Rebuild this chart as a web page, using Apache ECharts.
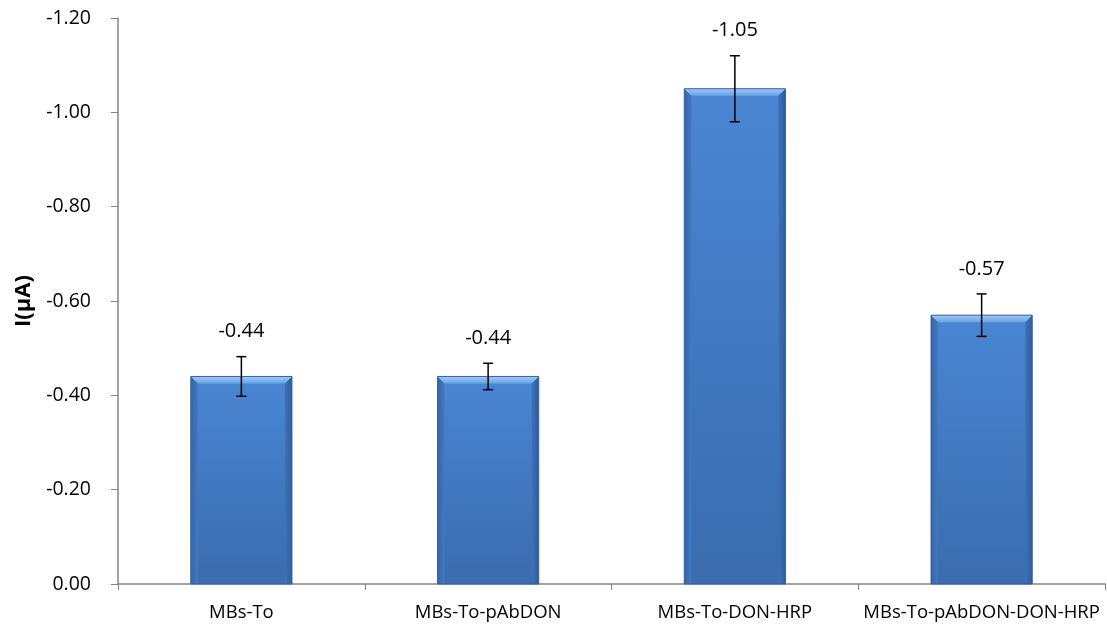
<!DOCTYPE html>
<html>
<head>
<meta charset="utf-8">
<script src="https://cdn.jsdelivr.net/npm/echarts@6/dist/echarts.min.js"></script>
<style>html,body{margin:0;padding:0;background:#fff}#c{width:1107px;height:624px}</style>
</head>
<body>
<div id="c"></div>
<script>
const categories = ['MBs-To', 'MBs-To-pAbDON', 'MBs-To-DON-HRP', 'MBs-To-pAbDON-DON-HRP'];
const values = [-0.44, -0.44, -1.05, -0.57];
const errors = [0.042, 0.028, 0.07, 0.045];
const yMin = -1.2, yMax = 0, yStep = 0.2;
const yTitle = 'I(µA)';

const FONT = '"Open Sans", "Noto Sans", sans-serif';
const chart = echarts.init(document.getElementById('c'), null, {renderer: 'canvas'});

function barItem(params, api) {
  const i = api.value(0);
  const base = api.coord([i, 0]);
  const top = api.coord([i, api.value(1)]);
  const w = api.size([1, 0])[0] * 0.41;
  const x0 = base[0] - w / 2, x1 = base[0] + w / 2;
  const y0 = top[1], yb = base[1];
  const b = 7;
  return {
    type: 'group',
    children: [
      {type: 'rect', shape: {x: x0, y: y0, width: w, height: yb - y0},
       style: {fill: new echarts.graphic.LinearGradient(0, 0, 0, 1, [
         {offset: 0, color: '#4a86d3'}, {offset: 1, color: '#3a6cae'}])}},
      {type: 'polygon', shape: {points: [[x0, y0], [x0 + b, y0 + b], [x0 + b, yb], [x0, yb]]},
       style: {fill: new echarts.graphic.LinearGradient(0, 0, 1, 0, [
         {offset: 0, color: '#3565a8'}, {offset: 1, color: '#4179c2'}])}},
      {type: 'polygon', shape: {points: [[x1, y0], [x1 - b, y0 + b], [x1 - b, yb], [x1, yb]]},
       style: {fill: new echarts.graphic.LinearGradient(1, 0, 0, 0, [
         {offset: 0, color: '#2f5d9a'}, {offset: 1, color: '#3d72b8'}])}},
      {type: 'polygon', shape: {points: [[x0, y0], [x1, y0], [x1 - b, y0 + b], [x0 + b, y0 + b]]},
       style: {fill: new echarts.graphic.LinearGradient(0, 0, 0, 1, [
         {offset: 0, color: '#9ccbfb'}, {offset: 1, color: '#6aa2e6'}])}},
      {type: 'rect', shape: {x: x0, y: y0, width: w, height: yb - y0},
       style: {fill: 'none', stroke: '#3563a2', lineWidth: 1}}
    ]
  };
}

function errItem(params, api) {
  const i = api.value(0);
  const v = api.value(1), e = api.value(2);
  const hi = api.coord([i, v - e]);
  const lo = api.coord([i, v + e]);
  const cap = 5;
  const x = hi[0];
  return {
    type: 'group',
    children: [
      {type: 'line', shape: {x1: x, y1: hi[1], x2: x, y2: lo[1]}, style: {stroke: '#000', lineWidth: 1.5}},
      {type: 'line', shape: {x1: x - cap, y1: hi[1], x2: x + cap, y2: hi[1]}, style: {stroke: '#000', lineWidth: 1.5}},
      {type: 'line', shape: {x1: x - cap, y1: lo[1], x2: x + cap, y2: lo[1]}, style: {stroke: '#000', lineWidth: 1.5}},
      {type: 'text', x: x, y: hi[1] - 25,
       style: {text: v.toFixed(2), fill: '#000', font: '20px ' + FONT, align: 'center', verticalAlign: 'middle'}}
    ]
  };
}

chart.setOption({
  animation: false,
  backgroundColor: '#fff',
  grid: {left: 118, right: 2, top: 18, bottom: 40, containLabel: false},
  xAxis: {
    type: 'category',
    data: categories,
    axisLine: {lineStyle: {color: '#868686', width: 1.5}},
    axisTick: {show: true, alignWithLabel: false, length: 6, lineStyle: {color: '#868686'}},
    axisLabel: {color: '#000', fontSize: 18.5, fontFamily: FONT, margin: 19, interval: 0}
  },
  yAxis: {
    type: 'value',
    inverse: true,
    min: yMin, max: yMax, interval: yStep,
    name: yTitle,
    nameLocation: 'middle',
    nameGap: 83,
    nameTextStyle: {color: '#000', fontSize: 22, fontWeight: 'bold', fontFamily: FONT},
    axisLine: {show: true, lineStyle: {color: '#868686', width: 1.5}},
    axisTick: {show: true, inside: false, length: 7, lineStyle: {color: '#868686'}},
    splitLine: {show: false},
    axisLabel: {color: '#000', fontSize: 19.5, fontFamily: FONT, margin: 27,
      formatter: v => (Math.abs(v) < 1e-9 ? 0 : v).toFixed(2)}
  },
  series: [
    {type: 'custom', renderItem: barItem, encode: {x: 0, y: 1},
     data: values.map((v, i) => [i, v]), z: 2},
    {type: 'custom', renderItem: errItem, encode: {x: 0, y: 1},
     data: values.map((v, i) => [i, v, errors[i]]), z: 3}
  ]
});
</script>
</body>
</html>
